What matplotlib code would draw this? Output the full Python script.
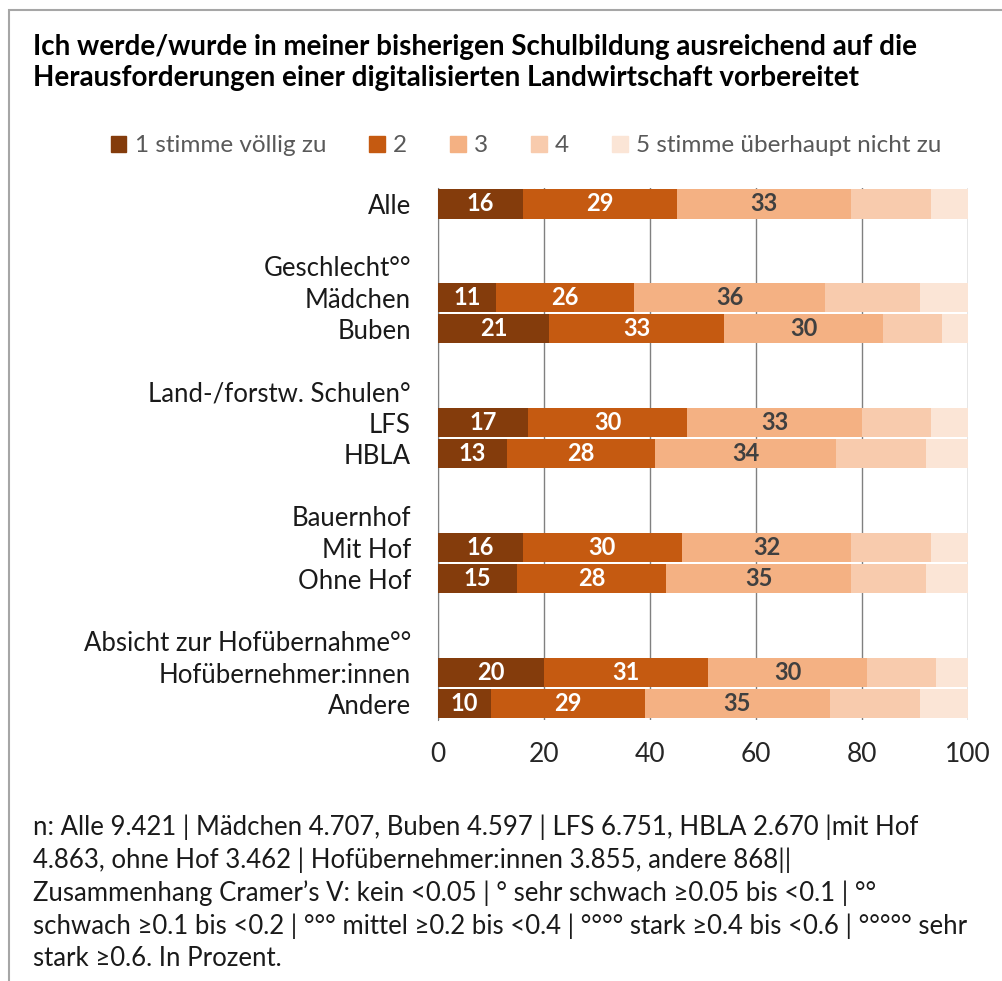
import numpy as np
import matplotlib
matplotlib.use("Agg")
import matplotlib.pyplot as plt
from matplotlib.patches import Rectangle

plt.rcParams["font.family"] = ["Lato", "DejaVu Sans"]

# Zeilen von oben nach unten; Leerzeilen und Gruppenüberschriften ohne Balken
rows = ["Alle", "", "Geschlecht°°", "Mädchen", "Buben", "",
        "Land-/forstw. Schulen°", "LFS", "HBLA", "",
        "Bauernhof", "Mit Hof", "Ohne Hof", "",
        "Absicht zur Hofübernahme°°", "Hofübernehmer:innen", "Andere"]
bar_rows = ["Alle", "Mädchen", "Buben", "LFS", "HBLA",
            "Mit Hof", "Ohne Hof", "Hofübernehmer:innen", "Andere"]

s1 = [16, 11, 21, 17, 13, 16, 15, 20, 10]
s2 = [29, 26, 33, 30, 28, 30, 28, 31, 29]
s3 = [33, 36, 30, 33, 34, 32, 35, 30, 35]
s4 = [15, 18, 11, 13, 17, 15, 14, 13, 17]
s5 = [7, 9, 5, 7, 8, 7, 8, 6, 9]

legend_labels = ["1 stimme völlig zu", "2", "3", "4", "5 stimme überhaupt nicht zu"]
colors = ["#843C0C", "#C55A11", "#F4B183", "#F8CBAD", "#FBE5D6"]
text_colors = ["white", "white", "#404040", None, None]

xticks = [0, 20, 40, 60, 80, 100]

fig = plt.figure(figsize=(10.02, 9.81), dpi=100)
ax = fig.add_axes([0.4371, 0.2665, 0.529, 0.5415])

y_of = {name: i for i, name in enumerate(rows)}
ys = np.array([y_of[r] for r in bar_rows])
series = [s1, s2, s3, s4, s5]
left = np.zeros(len(bar_rows))
for vals, col, tcol in zip(series, colors, text_colors):
    vals = np.array(vals, dtype=float)
    ax.barh(ys, vals, left=left, height=0.93, color=col, zorder=3)
    if tcol:
        for y, l, v in zip(ys, left, vals):
            ax.text(l + v / 2, y, f"{v:.0f}", ha="center", va="center",
                    color=tcol, fontsize=17, fontweight="bold", zorder=4)
    left += vals

ax.set_xlim(0, 100)
ax.set_ylim(len(rows) - 0.5, -0.5)
ax.set_xticks(xticks)
ax.set_xticklabels([str(t) for t in xticks], fontsize=19, color="#262626")
ax.set_yticks(range(len(rows)))
ax.set_yticklabels(rows, fontsize=18.5, color="#1a1a1a")
ax.tick_params(length=0)
ax.tick_params(axis="x", pad=16)
ax.tick_params(axis="y", pad=19.5)
ax.xaxis.grid(True, color="#808080", linewidth=1.0, zorder=0)
for side in ["top", "right", "bottom"]:
    ax.spines[side].set_visible(False)
ax.spines["left"].set_color("#808080")
ax.set_axisbelow(True)

# Legende oberhalb des Diagramms
handles = [Rectangle((0, 0), 1, 1, color=c) for c in colors]
fig.legend(handles, legend_labels, loc="center", bbox_to_anchor=(0.525, 1 - 146 / 981),
           ncol=5, frameon=False, fontsize=17.5, labelcolor="#595959",
           handlelength=0.65, handleheight=0.65, handletextpad=0.35, columnspacing=1.75)

fig.text(33 / 1002, 1 - 47 / 981,
         "Ich werde/wurde in meiner bisherigen Schulbildung ausreichend auf die",
         fontsize=20, fontweight="bold", color="black", va="center")
fig.text(33 / 1002, 1 - 78 / 981,
         "Herausforderungen einer digitalisierten Landwirtschaft vorbereitet",
         fontsize=20, fontweight="bold", color="black", va="center")

footnote = [
    "n: Alle 9.421 | Mädchen 4.707, Buben 4.597 | LFS 6.751, HBLA 2.670 |mit Hof",
    "4.863, ohne Hof 3.462 | Hofübernehmer:innen 3.855, andere 868||",
    "Zusammenhang Cramer’s V: kein <0.05 | ° sehr schwach ≥0.05 bis <0.1 | °°",
    "schwach ≥0.1 bis <0.2 | °°° mittel ≥0.2 bis <0.4 | °°°° stark ≥0.4 bis <0.6 | °°°°° sehr",
    "stark ≥0.6. In Prozent.",
]
for i, line in enumerate(footnote):
    fig.text(33 / 1002, 1 - (827 + 33 * i) / 981, line, fontsize=18.5,
             color="#1a1a1a", va="center")

# Rahmen um die Grafik
fig.add_artist(Rectangle((9 / 1002, -0.1), 1.2, 1 - 10 / 981 + 0.1,
                         transform=fig.transFigure, fill=False,
                         edgecolor="#A6A6A6", linewidth=1.5))

fig.savefig("out.png", dpi=100)
